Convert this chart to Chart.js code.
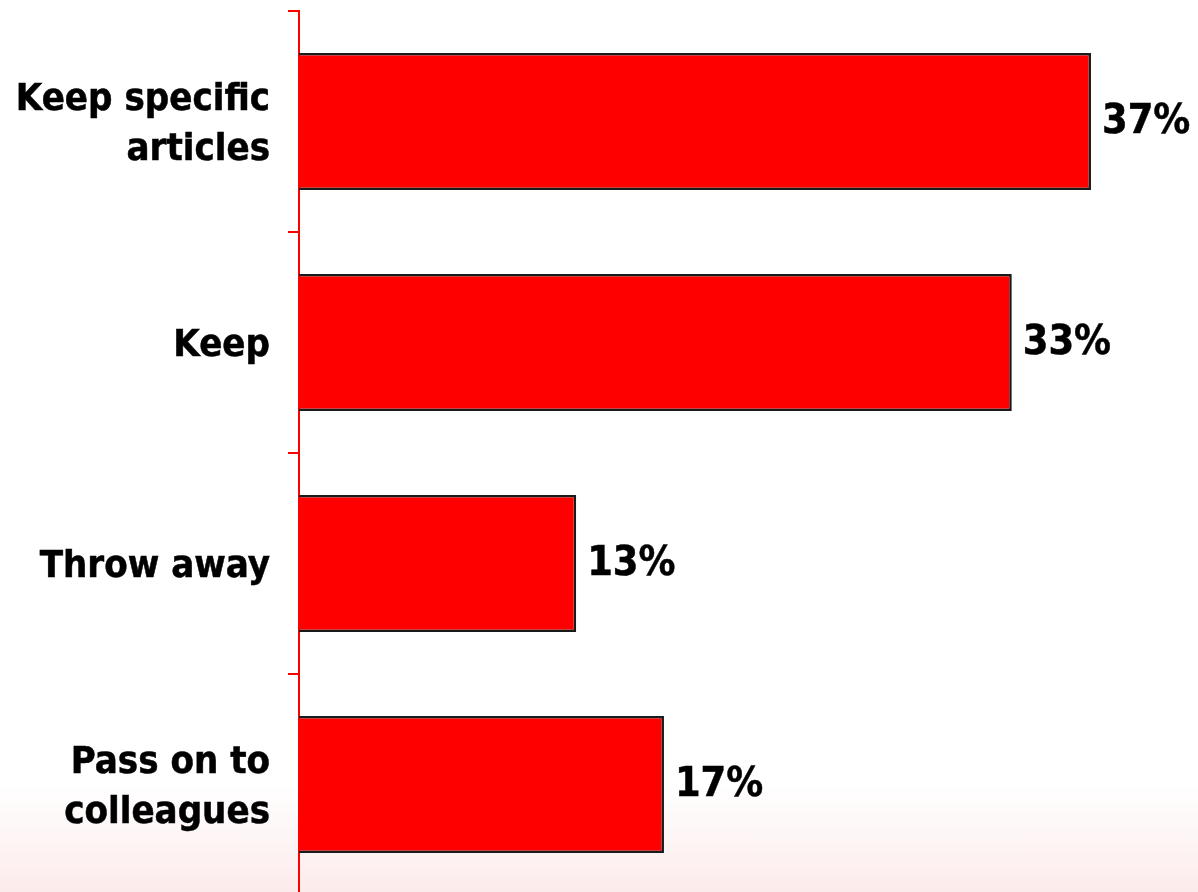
<!DOCTYPE html>
<html>
<head>
<meta charset="utf-8">
<script src="https://cdn.jsdelivr.net/npm/chart.js@4.4.1/dist/chart.umd.min.js"></script>
<style>
    html, body {
        margin: 0;
        padding: 0;
        width: 1198px;
        height: 892px;
        overflow: hidden;
        background: linear-gradient(to bottom, #ffffff 0%, #ffffff 88%, #fcebeb 100%);
    }
    #wrap {
        position: relative;
        width: 1198px;
        height: 905px;
    }
</style>
</head>
<body>
<div id="wrap">
    <canvas id="chart"></canvas>
</div>
<script>
const categories = [
    ['Keep specific', 'articles'],
    'Keep',
    'Throw away',
    ['Pass on to', 'colleagues']
];
const shares = [37, 33.3, 12.95, 17.05];
const xMax = 42;

const FONT = "'DejaVu Sans Condensed', 'DejaVu Sans', Verdana, sans-serif";

// value labels to the right of each bar
const valueLabels = {
    id: 'valueLabels',
    afterDatasetsDraw(chart) {
        const ctx = chart.ctx;
        const meta = chart.getDatasetMeta(0);
        ctx.save();
        ctx.font = 'bold 41px ' + FONT;
        ctx.fillStyle = '#000';
        ctx.strokeStyle = '#000';
        ctx.lineWidth = 0.5;
        ctx.textAlign = 'left';
        ctx.textBaseline = 'middle';
        meta.data.forEach((bar, i) => {
            const txt = Math.round(shares[i]) + '%';
            ctx.fillText(txt, bar.x + 11, bar.y + 1);
            ctx.strokeText(txt, bar.x + 11, bar.y + 1);
        });
        ctx.restore();
    }
};

new Chart(document.getElementById('chart'), {
    type: 'bar',
    data: {
        labels: categories,
        datasets: [{
            data: shares,
            backgroundColor: '#ff0000',
            borderColor: '#1a1a1a',
            borderWidth: 2.5,
            barPercentage: 0.62,
            categoryPercentage: 1
        }]
    },
    options: {
        indexAxis: 'y',
        responsive: true,
        maintainAspectRatio: false,
        animation: false,
        layout: {
            padding: { top: 11, bottom: 10, left: 0, right: 0 }
        },
        plugins: {
            legend: { display: false },
            tooltip: { enabled: false }
        },
        scales: {
            x: {
                display: false,
                min: 0,
                max: xMax
            },
            y: {
                afterFit(scale) {
                    scale.width = 299;
                    scale.paddingTop = 0;
                    scale.paddingBottom = 0;
                },
                border: {
                    color: '#ff0000',
                    width: 2
                },
                grid: {
                    offset: true,
                    drawOnChartArea: false,
                    drawTicks: true,
                    tickLength: 11,
                    color: '#ff0000',
                    lineWidth: 2
                },
                ticks: {
                    color: '#000',
                    padding: 18,
                    labelOffset: 4,
                    textStrokeColor: '#000',
                    textStrokeWidth: 0.5,
                    font: {
                        family: FONT,
                        weight: 'bold',
                        size: 38,
                        lineHeight: 1.32
                    }
                }
            }
        }
    },
    plugins: [valueLabels]
});
</script>
</body>
</html>
